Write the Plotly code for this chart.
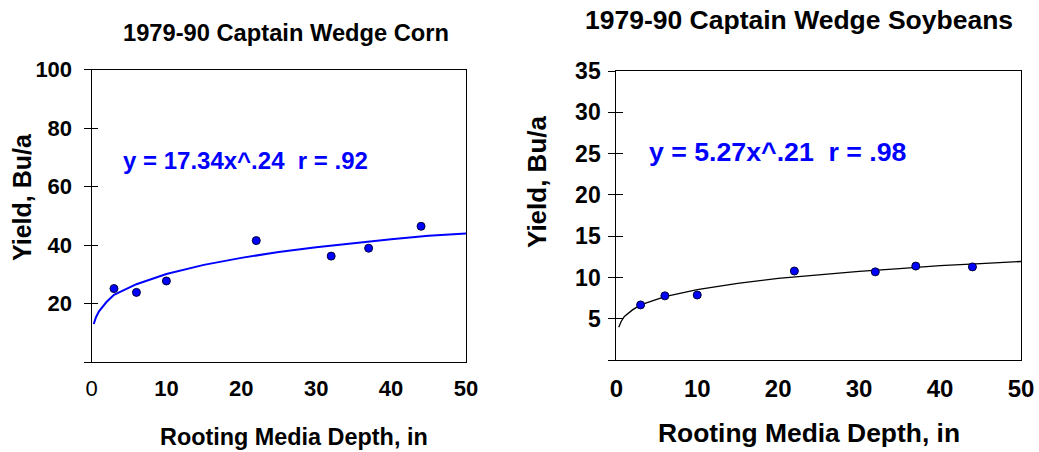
import plotly.graph_objects as go

# ---- data ----
depth = [3, 6, 10, 22, 32, 37, 44]
corn_yield = [25.1, 23.8, 27.7, 41.5, 36.2, 38.9, 46.4]
soy_yield = [6.7, 7.8, 7.9, 10.8, 10.7, 11.4, 11.3]

curve_x = [0.3, 0.6, 1, 1.5, 2, 3, 6, 10, 15, 20, 25, 30, 35, 40, 45, 50]
corn_curve = [13.0, 15.3, 17.3, 19.1, 20.5, 23.0, 26.6, 30.1, 33.2, 35.6, 37.6, 39.2, 40.7, 42.0, 43.2, 43.9]
soy_curve = [4.0, 4.7, 5.3, 5.7, 6.1, 6.7, 7.7, 8.55, 9.3, 9.9, 10.35, 10.75, 11.1, 11.45, 11.7, 11.95]

x_ticks = [0, 10, 20, 30, 40, 50]
corn_y_ticks = [0, 20, 40, 60, 80, 100]
soy_y_ticks = [0, 5, 10, 15, 20, 25, 30, 35]

corn_title = "1979-90 Captain Wedge Corn"
soy_title = "1979-90 Captain Wedge Soybeans"
corn_eq = "y = 17.34x^.24  r = .92"
soy_eq = "y = 5.27x^.21  r = .98"
x_title = "Rooting Media Depth, in"
y_title = "Yield, Bu/a"

FONT = "Liberation Sans, Arial, sans-serif"
W, H = 1039, 452


def px_x(p):
    return p / W


def px_y(p):
    return 1 - p / H


fig = go.Figure()

marker = dict(color="#0000ff", size=8, line=dict(color="#000033", width=1))

fig.add_trace(go.Scatter(x=curve_x, y=corn_curve, mode="lines",
                         line=dict(color="#0000ff", width=2), xaxis="x", yaxis="y",
                         hoverinfo="skip"))
fig.add_trace(go.Scatter(x=depth, y=corn_yield, mode="markers", marker=marker,
                         xaxis="x", yaxis="y"))
fig.add_trace(go.Scatter(x=curve_x, y=soy_curve, mode="lines",
                         line=dict(color="black", width=1.3), xaxis="x2", yaxis="y2",
                         hoverinfo="skip"))
fig.add_trace(go.Scatter(x=depth, y=soy_yield, mode="markers", marker=marker,
                         xaxis="x2", yaxis="y2"))
# helper traces for inside-tick overlay axes
fig.add_trace(go.Scatter(x=[None], y=[None], xaxis="x", yaxis="y3", showlegend=False))
fig.add_trace(go.Scatter(x=[None], y=[None], xaxis="x2", yaxis="y4", showlegend=False))

left_dom_x = [px_x(91.5), px_x(466)]
left_dom_y = [px_y(362), px_y(69.5)]
right_dom_x = [px_x(616.3), px_x(1021)]
right_dom_y = [px_y(360.3), px_y(71)]

common_x = dict(showgrid=False, zeroline=False, showline=True, linecolor="black",
                linewidth=1, mirror=True, ticks="", range=[0, 50], automargin=False,
                tickvals=x_ticks, tickmode="array")
common_y = dict(showgrid=False, zeroline=False, showline=True, linecolor="black",
                linewidth=1, mirror=True, ticks="outside", ticklen=7, automargin=False,
                tickcolor="black", tickwidth=1, tickmode="array")

fig.update_layout(
    template="none",
    width=W, height=H,
    margin=dict(l=0, r=0, t=0, b=0, pad=0, autoexpand=False),
    paper_bgcolor="white", plot_bgcolor="white",
    showlegend=False,
    font=dict(family=FONT, color="black"),
    xaxis=dict(common_x, domain=left_dom_x, anchor="y",
               ticktext=["0"] + ["<b>%d</b>" % v for v in x_ticks[1:]],
               tickfont=dict(size=22, family=FONT, color="black"),
               ticklabelstandoff=7),
    yaxis=dict(common_y, domain=left_dom_y, anchor="x", range=[0, 100],
               tickvals=corn_y_ticks,
               ticktext=[""] + [str(v) for v in corn_y_ticks[1:]],
               tickfont=dict(size=22, family=FONT, color="black", weight="bold"),
               ticklabelstandoff=7),
    yaxis3=dict(overlaying="y", anchor="x", range=[0, 100], tickvals=corn_y_ticks,
                tickmode="array", ticks="inside", ticklen=6, tickcolor="black",
                automargin=False,
                showticklabels=False, showgrid=False, zeroline=False, showline=False),
    xaxis2=dict(common_x, domain=right_dom_x, anchor="y2",
                ticktext=[str(v) for v in x_ticks],
                tickfont=dict(size=24, family=FONT, color="black", weight="bold"),
                ticklabelstandoff=7),
    yaxis2=dict(common_y, domain=right_dom_y, anchor="x2", range=[0, 35],
                tickvals=soy_y_ticks,
                ticktext=[""] + [str(v) for v in soy_y_ticks[1:]],
                tickfont=dict(size=23, family=FONT, color="black", weight="bold"),
                ticklabelstandoff=3),
    yaxis4=dict(overlaying="y2", anchor="x2", range=[0, 35], tickvals=soy_y_ticks,
                tickmode="array", ticks="inside", ticklen=7, tickcolor="black",
                automargin=False,
                showticklabels=False, showgrid=False, zeroline=False, showline=False),
)

ann = [
    dict(text="<b>%s</b>" % corn_title, x=px_x(286), y=px_y(33), size=23.7, color="black", angle=0),
    dict(text="<b>%s</b>" % soy_title, x=px_x(799), y=px_y(20), size=26.5, color="black", angle=0),
    dict(text="<b>%s</b>" % corn_eq, x=px_x(245.5), y=px_y(161), size=24, color="#0000ff", angle=0),
    dict(text="<b>%s</b>" % soy_eq, x=px_x(778), y=px_y(152), size=26.7, color="#0000ff", angle=0),
    dict(text="<b>%s</b>" % x_title, x=px_x(294), y=px_y(437), size=23.4, color="black", angle=0),
    dict(text="<b>%s</b>" % x_title, x=px_x(809), y=px_y(433), size=26.4, color="black", angle=0),
    dict(text="<b>%s</b>" % y_title, x=px_x(22), y=px_y(197), size=25, color="black", angle=-90),
    dict(text="<b>%s</b>" % y_title, x=px_x(537), y=px_y(182), size=26, color="black", angle=-90),
]
for a in ann:
    fig.add_annotation(text=a["text"], x=a["x"], y=a["y"], xref="paper", yref="paper",
                       xanchor="center", yanchor="middle", showarrow=False,
                       textangle=a["angle"],
                       font=dict(family=FONT, size=a["size"], color=a["color"]))

fig.write_html(
    "out.html",
    config={"displayModeBar": False},
    post_script="document.body.style.margin='0';document.body.style.overflow='hidden';",
)
